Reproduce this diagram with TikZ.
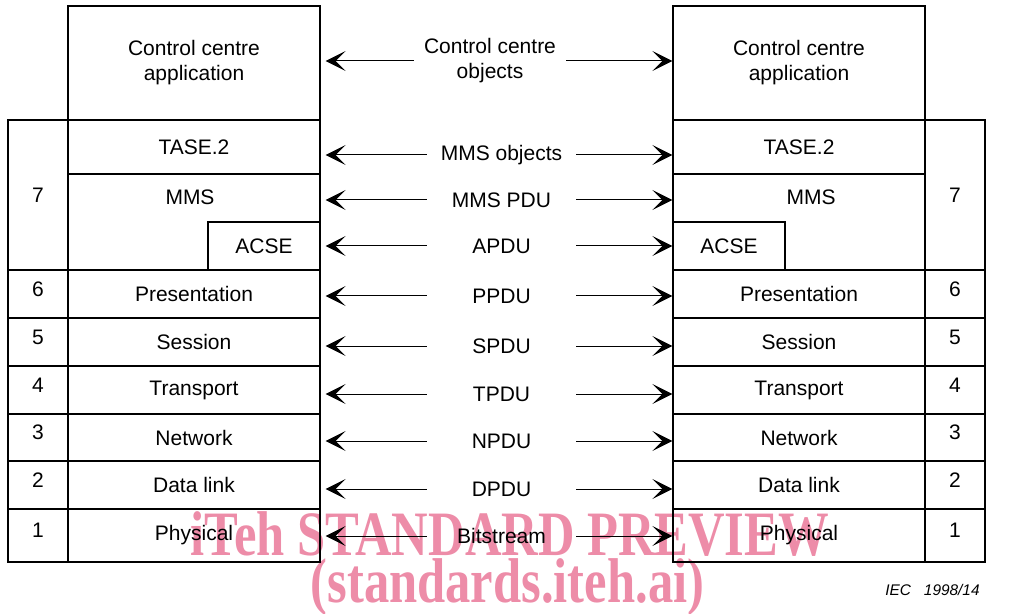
\documentclass[tikz,border=0pt]{standalone}
\usepackage{fontspec}
\setmainfont{Liberation Sans}
\newfontfamily\wmfont{Liberation Serif}
\usetikzlibrary{arrows.meta}
\definecolor{wmpink}{RGB}{237,140,168}
\tikzset{
  txt/.style={inner sep=0pt, align=center, font=\fontsize{10.5}{12.5}\selectfont},
  box/.style={txt, draw, line width=0.6pt, minimum width=126pt},
  numbox/.style={txt, draw, line width=0.6pt, minimum width=30pt, text depth=5pt},
  pdu/.style={txt, minimum width=74.5pt},
  pduarrow/.style={-{Stealth[length=10pt,width=10pt,inset=5pt]}, line width=0.5pt},
  wmark/.style={inner sep=0pt, anchor=base, text=wmpink, font=\wmfont\bfseries\fontsize{25.3}{30}\selectfont},
}
\begin{document}
\begin{tikzpicture}[x=0.5pt,y=-0.5pt]
  \useasboundingbox (0,0) rectangle (1010,614);
  % watermark behind everything
  \node[wmark] (wm1) at (510,555) {\scalebox{1}[1.25]{iTeh STANDARD PREVIEW}};
  \node[wmark] (wm2) at (507.5,602) {\scalebox{1}[1.25]{(standards.iteh.ai)}};

  % left stack
  \node[box, minimum height=57pt] (appL) at (194,63) {Control centre\\application};
  \node[box, minimum height=27pt] (taseL) at (194,147) {TASE.2};
  \node[box, minimum height=48pt] (mmsL) at (194,222) {};
  \node[txt] (mmsLt) at (190,197) {MMS};
  \node[box, minimum width=56pt, minimum height=24pt] (acseL) at (264,246) {ACSE};
  \node[numbox, minimum height=75pt, text depth=0pt] (n7L) at (38,195) {7};
  \node[box, minimum height=24pt] (presL) at (194,294) {Presentation};
  \node[numbox, minimum height=24pt] (n6L) at (38,294) {6};
  \node[box, minimum height=24pt] (sessL) at (194,342) {Session};
  \node[numbox, minimum height=24pt] (n5L) at (38,342) {5};
  \node[box, minimum height=24pt] (tranL) at (194,390) {Transport};
  \node[numbox, minimum height=24pt] (n4L) at (38,390) {4};
  \node[box, minimum height=23.5pt] (netL) at (194,437.5) {Network};
  \node[numbox, minimum height=23.5pt] (n3L) at (38,437.5) {3};
  \node[box, minimum height=24pt] (linkL) at (194,485) {Data link};
  \node[numbox, minimum height=24pt] (n2L) at (38,485) {2};
  \node[box, minimum height=26.5pt] (physL) at (194,535.5) {Physical};
  \node[numbox, minimum height=26.5pt] (n1L) at (38,535.5) {1};

  % right stack
  \node[box, minimum height=57pt] (appR) at (799,63) {Control centre\\application};
  \node[box, minimum height=27pt] (taseR) at (799,147) {TASE.2};
  \node[box, minimum height=48pt] (mmsR) at (799,222) {};
  \node[txt] (mmsRt) at (811,197) {MMS};
  \node[box, minimum width=56pt, minimum height=24pt] (acseR) at (729,246) {ACSE};
  \node[numbox, minimum height=75pt, text depth=0pt] (n7R) at (955,195) {7};
  \node[box, minimum height=24pt] (presR) at (799,294) {Presentation};
  \node[numbox, minimum height=24pt] (n6R) at (955,294) {6};
  \node[box, minimum height=24pt] (sessR) at (799,342) {Session};
  \node[numbox, minimum height=24pt] (n5R) at (955,342) {5};
  \node[box, minimum height=24pt] (tranR) at (799,390) {Transport};
  \node[numbox, minimum height=24pt] (n4R) at (955,390) {4};
  \node[box, minimum height=23.5pt] (netR) at (799,437.5) {Network};
  \node[numbox, minimum height=23.5pt] (n3R) at (955,437.5) {3};
  \node[box, minimum height=24pt] (linkR) at (799,485) {Data link};
  \node[numbox, minimum height=24pt] (n2R) at (955,485) {2};
  \node[box, minimum height=26.5pt] (physR) at (799,535.5) {Physical};
  \node[numbox, minimum height=26.5pt] (n1R) at (955,535.5) {1};

  % peer protocol units
  \node[pdu, minimum width=76pt] (ccobj) at (490,61) {Control centre\\objects};
  \node[pdu] (mmsobj) at (501.5,155) {MMS objects};
  \node[pdu] (mmspdu) at (501.5,200) {MMS PDU};
  \node[pdu] (apdu) at (501.5,246) {APDU};
  \node[pdu] (ppdu) at (501.5,296) {PPDU};
  \node[pdu] (spdu) at (501.5,346) {SPDU};
  \node[pdu] (tpdu) at (501.5,394) {TPDU};
  \node[pdu] (npdu) at (501.5,441) {NPDU};
  \node[pdu] (dpdu) at (501.5,489) {DPDU};
  \node[pdu] (bits) at (501.5,536) {Bitstream};

  \draw[pduarrow, shorten >=2.5pt] (ccobj.west) -- (ccobj.west -| appL.east);
  \draw[pduarrow] (ccobj.east) -- (ccobj.east -| appR.west);
  \draw[pduarrow, shorten >=2.5pt] (mmsobj.west) -- (mmsobj.west -| taseL.east);
  \draw[pduarrow] (mmsobj.east) -- (mmsobj.east -| taseR.west);
  \draw[pduarrow, shorten >=2.5pt] (mmspdu.west) -- (mmspdu.west -| mmsL.east);
  \draw[pduarrow] (mmspdu.east) -- (mmspdu.east -| mmsR.west);
  \draw[pduarrow, shorten >=2.5pt] (apdu.west) -- (apdu.west -| acseL.east);
  \draw[pduarrow] (apdu.east) -- (apdu.east -| acseR.west);
  \draw[pduarrow, shorten >=2.5pt] (ppdu.west) -- (ppdu.west -| presL.east);
  \draw[pduarrow] (ppdu.east) -- (ppdu.east -| presR.west);
  \draw[pduarrow, shorten >=2.5pt] (spdu.west) -- (spdu.west -| sessL.east);
  \draw[pduarrow] (spdu.east) -- (spdu.east -| sessR.west);
  \draw[pduarrow, shorten >=2.5pt] (tpdu.west) -- (tpdu.west -| tranL.east);
  \draw[pduarrow] (tpdu.east) -- (tpdu.east -| tranR.west);
  \draw[pduarrow, shorten >=2.5pt] (npdu.west) -- (npdu.west -| netL.east);
  \draw[pduarrow] (npdu.east) -- (npdu.east -| netR.west);
  \draw[pduarrow, shorten >=2.5pt] (dpdu.west) -- (dpdu.west -| linkL.east);
  \draw[pduarrow] (dpdu.east) -- (dpdu.east -| linkR.west);
  \draw[pduarrow, shorten >=2.5pt] (bits.west) -- (bits.west -| physL.east);
  \draw[pduarrow] (bits.east) -- (bits.east -| physR.west);

  \node[anchor=east, inner sep=0pt, font=\itshape\fontsize{7.7}{9}\selectfont] (figno) at (980,590) {IEC\ \ \ 1998/14};
\end{tikzpicture}
\end{document}
